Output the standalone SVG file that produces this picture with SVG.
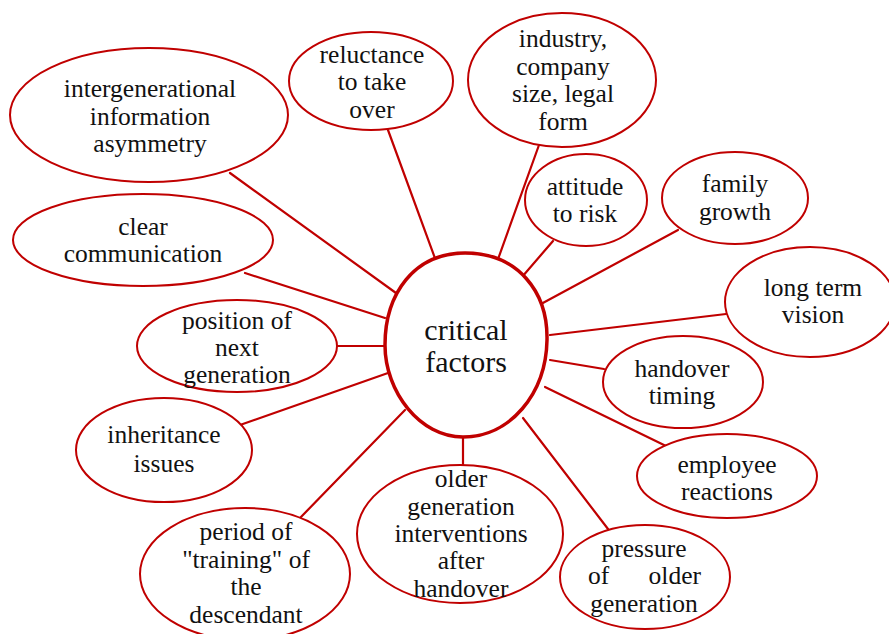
<svg xmlns="http://www.w3.org/2000/svg" width="889" height="634" viewBox="0 0 889 634">
  <style>
    .bg { fill: #ffffff; }
    .node ellipse { fill: #ffffff; stroke: #c00000; stroke-width: 2; }
    .hub path { fill: #ffffff; stroke: #c00000; stroke-width: 3.5; }
    #connectors line { stroke: #c00000; stroke-width: 2.2; stroke-linecap: round; }
    text { font-family: "Liberation Serif", "Times New Roman", serif; fill: #111111; text-anchor: middle; }
    .node text { font-size: 25.5px; }
    .hub text { font-size: 30px; }
  </style>
  <rect class="bg" x="0" y="0" width="889" height="634"/>

  <!-- spokes from the hub to every factor -->
  <g id="connectors">
    <line x1="388" y1="130" x2="436" y2="261"/>
    <line x1="539" y1="145" x2="497" y2="262"/>
    <line x1="553" y1="241" x2="522" y2="277"/>
    <line x1="678" y1="230" x2="541" y2="304"/>
    <line x1="726" y1="314" x2="550" y2="335"/>
    <line x1="604" y1="369" x2="550" y2="360"/>
    <line x1="666" y1="446" x2="545" y2="387"/>
    <line x1="608" y1="529" x2="523" y2="418"/>
    <line x1="463" y1="467" x2="463" y2="438"/>
    <line x1="300" y1="518" x2="405" y2="410"/>
    <line x1="240" y1="425" x2="388" y2="373"/>
    <line x1="337" y1="346" x2="385" y2="346"/>
    <line x1="245" y1="273" x2="385" y2="318"/>
    <line x1="230" y1="173" x2="396" y2="293"/>
  </g>

  <g id="hub" class="hub">
    <path d="M 465 253 C 518 253 548 292 547 340 C 546 394 510 437 463 437 C 420 437 385 392 385 345 C 385 294 414 253 465 253 Z"/>
    <text x="466" y="340">critical</text>
    <text x="466" y="372">factors</text>
  </g>

  <g id="node-information-asymmetry" class="node">
    <ellipse cx="149" cy="115" rx="139" ry="67"/>
    <text x="150" y="97">intergenerational</text>
    <text x="150" y="125">information</text>
    <text x="150" y="152">asymmetry</text>
  </g>

  <g id="node-reluctance" class="node">
    <ellipse cx="371" cy="81" rx="82" ry="49"/>
    <text x="372" y="63">reluctance</text>
    <text x="372" y="90">to take</text>
    <text x="372" y="118">over</text>
  </g>

  <g id="node-industry" class="node">
    <ellipse cx="562" cy="80" rx="94" ry="67"/>
    <text x="563" y="47">industry,</text>
    <text x="563" y="75">company</text>
    <text x="563" y="102">size, legal</text>
    <text x="563" y="130">form</text>
  </g>

  <g id="node-attitude-to-risk" class="node">
    <ellipse cx="586" cy="200" rx="61" ry="46"/>
    <text x="585" y="195">attitude</text>
    <text x="585" y="222">to risk</text>
  </g>

  <g id="node-family-growth" class="node">
    <ellipse cx="735" cy="198" rx="73" ry="46"/>
    <text x="735" y="192">family</text>
    <text x="735" y="220">growth</text>
  </g>

  <g id="node-long-term-vision" class="node">
    <ellipse cx="810" cy="302" rx="85" ry="55"/>
    <text x="813" y="296">long term</text>
    <text x="813" y="323">vision</text>
  </g>

  <g id="node-handover-timing" class="node">
    <ellipse cx="683" cy="382" rx="80" ry="46"/>
    <text x="682" y="377">handover</text>
    <text x="682" y="404">timing</text>
  </g>

  <g id="node-employee-reactions" class="node">
    <ellipse cx="727" cy="476" rx="90" ry="42"/>
    <text x="727" y="473">employee</text>
    <text x="727" y="500">reactions</text>
  </g>

  <g id="node-pressure" class="node">
    <ellipse cx="645" cy="577" rx="85" ry="52"/>
    <text x="644" y="557">pressure</text>
    <text y="584"><tspan x="588" text-anchor="start">of</tspan><tspan x="701" text-anchor="end">older</tspan></text>
    <text x="644" y="612">generation</text>
  </g>

  <g id="node-older-interventions" class="node">
    <ellipse cx="460" cy="534" rx="103" ry="69"/>
    <text x="461" y="487">older</text>
    <text x="461" y="515">generation</text>
    <text x="461" y="542">interventions</text>
    <text x="461" y="569">after</text>
    <text x="461" y="597">handover</text>
  </g>

  <g id="node-training-period" class="node">
    <ellipse cx="245" cy="574" rx="105" ry="66"/>
    <text x="246" y="540">period of</text>
    <text x="246" y="568">"training" of</text>
    <text x="246" y="595">the</text>
    <text x="246" y="623">descendant</text>
  </g>

  <g id="node-inheritance" class="node">
    <ellipse cx="164" cy="450" rx="88" ry="52"/>
    <text x="164" y="443">inheritance</text>
    <text x="164" y="472">issues</text>
  </g>

  <g id="node-position-next-generation" class="node">
    <ellipse cx="237" cy="346" rx="100" ry="46"/>
    <text x="237" y="329">position of</text>
    <text x="237" y="356">next</text>
    <text x="237" y="383">generation</text>
  </g>

  <g id="node-clear-communication" class="node">
    <ellipse cx="143" cy="240" rx="130" ry="46"/>
    <text x="143" y="235">clear</text>
    <text x="143" y="262">communication</text>
  </g>
</svg>
